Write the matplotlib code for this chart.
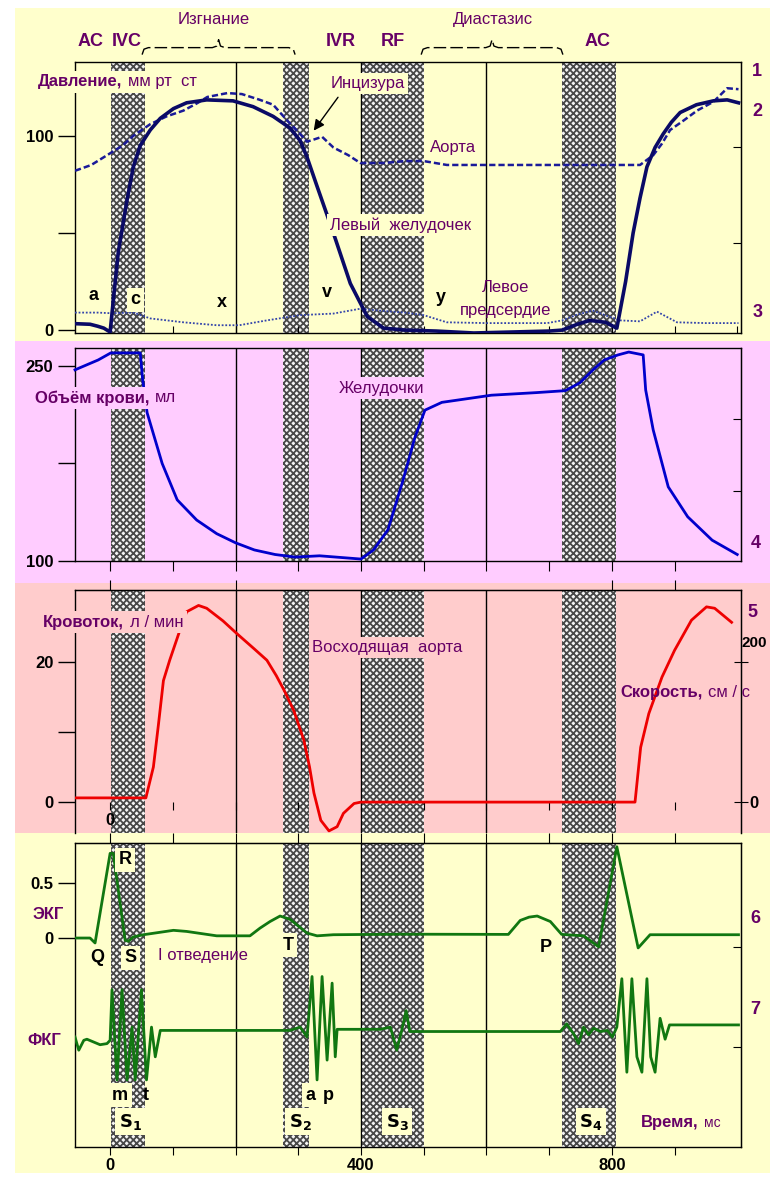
import matplotlib
matplotlib.use('Agg')
import matplotlib.pyplot as plt
from matplotlib.patches import Rectangle
from matplotlib import font_manager

# --- data (ms) ---
band_start = [1, 275, 401, 720]
band_end = [55, 317, 500, 807]
grid_ms = [200, 400, 600, 800]

# panel 1: pressure, mm Hg
lv_t = [-56, -32, -20, -10, 0, 5, 13, 27, 37, 48, 64, 80, 101, 122, 154, 196, 228, 260, 287, 303,
        314, 330, 356, 383, 410, 436, 470, 520, 580, 640, 700, 721, 745, 765, 790, 808, 822, 834, 845, 856,
        869, 882, 895, 909, 935, 962, 984, 1002]
lv_p = [3.3, 3, 2, 1, -1, 15, 40, 67, 84, 95, 103, 109, 114, 117, 118.5, 118, 115, 110, 104, 97.5,
        89, 74, 50, 24, 7, 1, 0, -0.5, -1.5, -1, -0.5, 0, 3, 5, 4, 1, 25, 50, 68, 84,
        94, 101, 107, 112, 116, 118, 118.5, 117]
ao_t = [-56, -30, 0, 20, 37, 64, 90, 117, 140, 155, 187, 210, 239, 260, 282, 300, 314, 324, 338, 356,
        380, 399, 436, 470, 500, 537, 600, 697, 760, 845, 866, 880, 893, 915, 936, 962, 984, 1002]
ao_p = [82, 85, 91, 95, 100, 106, 110, 113, 117, 120, 122, 121.5, 118.5, 116, 108, 102, 97, 98, 99.5, 94,
        90, 86, 86, 87, 87, 85, 85, 85, 85, 85, 90, 96, 103, 108, 113, 117.5, 124.5, 124]
la_t = [-56, -20, 0, 37, 64, 117, 170, 206, 250, 303, 356, 399, 430, 470, 500, 537, 600, 697, 721, 745,
        770, 795, 813, 845, 872, 904, 950, 1002]
la_p = [9, 9, 8.7, 9, 6, 4, 2.5, 2.5, 5, 7.7, 8.5, 11, 10, 9, 7.7, 4, 3.6, 3.6, 5, 8,
        10, 7, 5, 4.5, 9.5, 4, 3.6, 3.6]

# panel 2: ventricular volume, ml
vol_t = [-56, -19, 1, 48, 52, 59, 83, 107, 138, 170, 200, 230, 263, 295, 334, 400, 420, 443, 467, 486,
         502, 529, 608, 680, 726, 749, 770, 788, 810, 827, 850, 854, 866, 890, 921, 960, 1000]
vol_v = [247, 254.6, 260, 260, 239, 214, 175, 147, 131.5, 121, 114, 108.5, 105, 103, 104, 101.5, 108.5, 124, 162, 195,
         216, 222, 227.5, 229.5, 231, 237, 247, 254.6, 258.5, 260.7, 258.5, 231.5, 200.8, 157, 134, 116, 105]

# panel 3: aortic flow, l/min
fl_t = [-56, 57, 69, 77, 85, 95, 111, 122, 141, 154, 180, 202, 230, 250, 265, 277, 293, 309, 318, 325,
        336, 349, 362, 372, 389, 400, 837, 846, 859, 880, 900, 927, 951, 964, 991]
fl_v = [0.6, 0.6, 5, 11, 17.3, 20.2, 24.4, 27.1, 28, 27.6, 25.8, 24, 21.8, 20.2, 18, 16, 13, 8.8, 5, 1.3,
        -2.6, -4.1, -3.5, -1.6, -0.2, 0, 0, 7.8, 12.6, 17.8, 21.6, 25.9, 27.8, 27.6, 25.6]

# panel 4: ECG (mV) and phonocardiogram (same axis, offset)
ecg_t = [-56, -32, -24, 0, 5, 24, 29, 37, 53, 101, 122, 170, 223, 239, 255, 271, 287, 314, 330, 356,
         462, 635, 654, 668, 681, 702, 720, 755, 779, 808, 842, 861, 1002]
ecg_v = [0, 0, -0.045, 0.77, 0.77, -0.02, -0.03, 0.01, 0.03, 0.07, 0.06, 0.02, 0.02, 0.09, 0.15, 0.2, 0.17, 0.045, 0.02, 0.03,
         0.035, 0.033, 0.16, 0.19, 0.2, 0.15, 0.033, 0.02, -0.08, 0.83, -0.09, 0.03, 0.03]
pcg_t = [-56, -50, -42, -37, -16, -5, 0, 3, 11, 19, 27, 35, 40, 50, 58, 66, 72, 80, 83, 266,
         287, 303, 314, 322, 330, 338, 346, 354, 359, 362, 431, 447, 457, 465, 472, 478, 718, 728, 739, 747,
         755, 763, 771, 782, 793, 801, 808, 816, 824, 832, 840, 848, 856, 862, 869, 877, 885, 892, 1002]
pcg_v = [-0.90, -1.02, -0.93, -0.92, -0.97, -0.96, -0.93, -0.47, -1.29, -0.47, -1.29, -0.81, -1.29, -0.47, -1.29, -0.81, -1.08, -0.84, -0.84, -0.84,
         -0.84, -0.81, -0.90, -0.35, -1.29, -0.35, -1.11, -0.41, -1.08, -0.83, -0.83, -0.81, -1.02, -0.84, -0.66, -0.85, -0.85, -0.78, -0.87, -0.96,
         -0.81, -0.88, -0.82, -0.85, -0.84, -0.90, -0.81, -0.37, -1.22, -0.37, -1.08, -1.22, -0.37, -1.08, -1.22, -0.73, -0.92, -0.79, -0.79]

W, H = 770, 1177
YELLOW = '#ffffcc'
PINK = '#ffccff'
SALMON = '#ffcccc'
PURPLE = '#660066'

names = {f.name for f in font_manager.fontManager.ttflist}
NARROW = 'Liberation Sans Narrow' if 'Liberation Sans Narrow' in names else 'Liberation Sans'
REG = 'Liberation Sans'
plt.rcParams['font.family'] = [NARROW, 'DejaVu Sans']
plt.rcParams['hatch.linewidth'] = 1.3

fig = plt.figure(figsize=(W / 100, H / 100), dpi=100)
fig.patch.set_facecolor('white')

# coloured panel backgrounds
for (y0, y1), c in zip([(8, 341), (341, 583), (583, 833), (833, 1173)], [YELLOW, PINK, SALMON, YELLOW]):
    fig.add_artist(Rectangle((15 / W, 1 - y1 / H), 1 - 15 / W, (y1 - y0) / H,
                             transform=fig.transFigure, facecolor=c, edgecolor='none', zorder=-10))


def make_axes(top, bottom):
    ax = fig.add_axes([75 / W, 1 - bottom / H, (741 - 75) / W, (bottom - top) / H])
    ax.set_facecolor('none')
    ax.set_xlim(-56, 1006)
    for s in ax.spines.values():
        s.set_linewidth(1)
    for s, e in zip(band_start, band_end):
        ax.axvspan(s, e, facecolor='#f4f4f4', edgecolor='#484848', hatch='xxxxx', lw=0, zorder=1)
    for v in grid_ms:
        ax.axvline(v, color='black', lw=1, zorder=0.8)
    return ax


def put(ax, x, y, s, bold=False, color=PURPLE, size=12, bg=None, **kw):
    bbox = dict(boxstyle='square,pad=0.2', fc=bg, ec='none') if bg else None
    kw.setdefault('va', 'center')
    return ax.text(x, y, s, fontsize=size, fontweight='bold' if bold else 'normal', color=color,
                   family=[NARROW if bold else REG, 'DejaVu Sans'], bbox=bbox, zorder=6,
                   clip_on=False, **kw)


def put2(ax, x, y, s1, s2, bg=None, size2=12):
    # bold label followed by its unit in a regular face
    t1 = put(ax, x, y, s1, bold=True, bg=bg)
    bbox = dict(boxstyle='square,pad=0.2', fc=bg, ec='none') if bg else None
    ax.annotate(s2, xy=(1, 0.5), xycoords=t1, xytext=(4, 0), textcoords='offset points',
                va='center', ha='left', fontsize=size2, color=PURPLE, family=[REG, 'DejaVu Sans'],
                bbox=bbox, zorder=6)


def bold_ticks(ax, size=12):
    for lb in ax.get_xticklabels() + ax.get_yticklabels():
        lb.set_fontweight('bold')
        lb.set_fontsize(size)


def brace(ax, x0, x1, yb, yl, yt):
    xm = (x0 + x1) / 2
    xs = [x0, x0 + 3, x0 + 10, xm - 10, xm - 3, xm, xm + 3, xm + 10, x1 - 10, x1 - 3, x1]
    ys = [yb, yl - 0.8, yl, yl, yl + 0.8, yt, yl + 0.8, yl, yl, yl - 0.8, yb]
    ax.plot(xs, ys, color='black', lw=1, ls=(0, (9, 3)), clip_on=False, zorder=6)


# ---------------- panel 1: pressures ----------------
ax1 = make_axes(62, 333)
ax1.set_ylim(-1.5, 138)
ax1.plot(la_t, la_p, color='#3344aa', lw=1.3, ls=(0, (1, 1)), zorder=3)
ax1.plot(ao_t, ao_p, color='#1a1a99', lw=1.8, ls=(0, (2.5, 1.2)), zorder=3)
ax1.plot(lv_t, lv_p, color='#0a0a66', lw=2.6, zorder=4)
ax1.set_yticks([0, 50, 100], ['0', '', '100'])
ax1.tick_params(axis='y', direction='out', length=12, width=1)
ax1.set_xticks(range(0, 1001, 100), [''] * 11)
ax1.tick_params(axis='x', direction='in', length=5)
sec = ax1.secondary_yaxis('right')
sec.set_yticks([45, 94], ['', ''])
sec.tick_params(direction='in', length=6)
bold_ticks(ax1)

for x, s in zip([-32, 27, 368, 450, 777], ['AC', 'IVC', 'IVR', 'RF', 'AC']):
    put(ax1, x, 148.5, s, bold=True, size=13, ha='center')
put(ax1, (band_end[0] + band_start[1]) / 2, 159.8, 'Изгнание', ha='center')
put(ax1, (band_end[2] + band_start[3]) / 2, 159.8, 'Диастазис', ha='center')
brace(ax1, band_end[0] - 4, band_start[1] + 20, 141.8, 145.4, 149.5)
brace(ax1, band_end[2] - 4, band_start[3] + 2, 141.8, 145.4, 149.5)
put2(ax1, -115, 127.8, 'Давление,', 'мм рт  ст', bg=YELLOW)
put(ax1, 351, 127, 'Инцизура', bg=YELLOW)
ax1.annotate('', xy=(322, 101.5), xytext=(366, 121),
             arrowprops=dict(arrowstyle='-|>', color='black', lw=1, mutation_scale=16), zorder=6)
put(ax1, 510, 93.8, 'Аорта')
put(ax1, 351, 54, 'Левый  желудочек', bg=YELLOW)
for x, y, s, bg in [(-27, 18, 'a', None), (40, 15.5, 'c', YELLOW), (179, 14, 'x', None),
                    (346, 19.6, 'v', None), (528, 17, 'y', None)]:
    put(ax1, x, y, s, bold=True, color='black', size=13, bg=bg, ha='center')
put(ax1, 630, 22, 'Левое', ha='center')
put(ax1, 630, 10.3, 'предсердие', ha='center')
for y, s in [(133, '1'), (112.4, '2'), (8.8, '3')]:
    put(ax1, 1032, y, s, bold=True, size=13, ha='center')

# ---------------- panel 2: volume ----------------
ax2 = make_axes(348, 561)
ax2.set_ylim(100, 263.8)
ax2.plot(vol_t, vol_v, color='#0000cc', lw=2, zorder=4, clip_on=False)
ax2.set_yticks([100, 175, 250], ['100', '', '250'])
ax2.tick_params(axis='y', direction='out', length=12, width=1)
ax2.set_xticks(range(0, 1000, 100), [''] * 10)
ax2.tick_params(axis='x', direction='out', length=7)
sec = ax2.secondary_yaxis('right')
sec.set_yticks([154, 209], ['', ''])
sec.tick_params(direction='in', length=6)
bold_ticks(ax2)
put2(ax2, -120, 225.4, 'Объём крови,', 'мл', bg=PINK)
put(ax2, 364, 233, 'Желудочки', bg=PINK)
put(ax2, 1029, 113.8, '4', bold=True, size=13, ha='center')

# ---------------- panel 3: flow ----------------
ax3 = make_axes(590, 833)
ax3.set_ylim(-4.4, 30.2)
ax3.plot(fl_t, fl_v, color='#ee0000', lw=2, zorder=4)
ax3.spines['bottom'].set_position(('data', 0))
ax3.spines['bottom'].set_visible(False)
ax3.set_yticks([0, 10, 20], ['0', '', '20'])
ax3.tick_params(axis='y', direction='out', length=12, width=1)
ax3.set_xticks(range(0, 1000, 100), ['0'] + [''] * 9)
ax3.tick_params(axis='x', direction='out', length=6, pad=2)
sec = ax3.secondary_yaxis('right')
sec.set_yticks([0, 20], ['0', ''])
sec.tick_params(direction='inout', length=10, pad=1)
for lb in sec.get_yticklabels():
    lb.set_fontweight('bold')
    lb.set_fontsize(12)
top = ax3.secondary_xaxis('top')
top.set_xticks([0, 200, 800, 900], [''] * 4)
top.tick_params(direction='out', length=7)
bold_ticks(ax3)
put2(ax3, -107, 25.6, 'Кровоток,', 'л / мин', bg=SALMON)
put(ax3, 322, 22, 'Восходящая  аорта', bg=SALMON)
put2(ax3, 813, 15.6, 'Скорость,', 'см / с')
put(ax3, 1024, 27, '5', bold=True, size=13, ha='center')
put(ax3, 1007, 22.6, '200', bold=True, color='black', size=11, ha='left')

# ---------------- panel 4: ECG and PCG ----------------
ax4 = make_axes(843, 1147)
ax4.set_ylim(-1.9, 0.864)
ax4.plot(ecg_t, ecg_v, color='#117711', lw=2, zorder=4)
ax4.plot(pcg_t, pcg_v, color='#117711', lw=2, zorder=4)
ax4.set_yticks([0, 0.5], ['0', '0.5'])
ax4.tick_params(axis='y', direction='out', length=12, width=1)
ax4.set_xticks(range(0, 1000, 100), ['0', '', '', '', '400', '', '', '', '800', ''])
ax4.tick_params(axis='x', direction='out', length=6, pad=2)
top = ax4.secondary_xaxis('top')
top.set_xticks(range(0, 1000, 100), [''] * 10)
top.tick_params(direction='out', length=7)
sec = ax4.secondary_yaxis('right')
sec.set_yticks([-0.99, -0.08], ['', ''])
sec.tick_params(direction='in', length=6)
bold_ticks(ax4)

for x, y, s, bg in [(24, 0.71, 'R', YELLOW), (-21, -0.18, 'Q', None), (33, -0.18, 'S', YELLOW),
                    (284, -0.064, 'T', YELLOW), (694, -0.09, 'P', None),
                    (16, -1.43, 'm', YELLOW), (57, -1.43, 't', None), (319, -1.43, 'a', YELLOW),
                    (348, -1.43, 'p', None)]:
    put(ax4, x, y, s, bold=True, color='black', size=13, bg=bg, ha='center')
for x, n in zip([32, 303, 458, 767], '1234'):
    put(ax4, x, -1.67, r'$\mathbf{S_%s}$' % n, color='black', size=13, bg=YELLOW, ha='center')
put(ax4, 77, -0.155, 'I отведение')
put(ax4, -123, 0.21, 'ЭКГ', bold=True)
put(ax4, -132, -0.93, 'ФКГ', bold=True)
put(ax4, 1029, 0.18, '6', bold=True, size=13, ha='center')
put(ax4, 1029, -0.65, '7', bold=True, size=13, ha='center')
put2(ax4, 846, -1.68, 'Время,', 'мс', size2=10)

fig.savefig('out.png', dpi=100)
